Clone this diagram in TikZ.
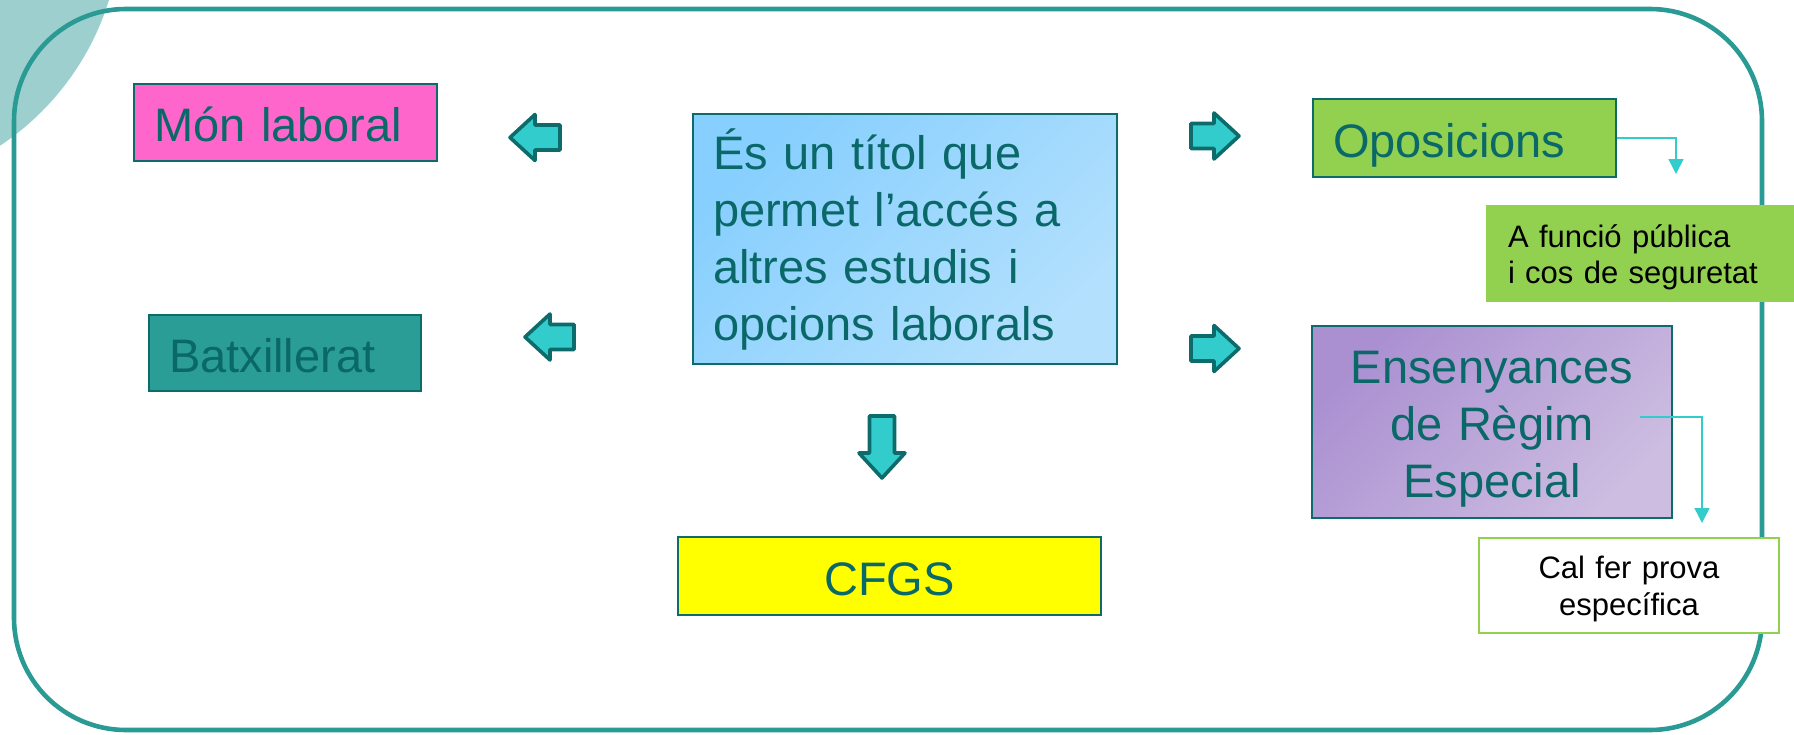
\documentclass[tikz,border=0pt]{standalone}
\usepackage{fontspec}
\setmainfont{Liberation Sans}
\usetikzlibrary{arrows.meta}
\definecolor{frameteal}{HTML}{2A9A94}
\definecolor{circteal}{HTML}{9ECFCF}
\definecolor{txtteal}{HTML}{0A6868}
\definecolor{bordteal}{HTML}{0E6B6B}
\definecolor{arrfill}{HTML}{33CCCC}
\definecolor{pinkfill}{HTML}{FF66CC}
\definecolor{batxfill}{HTML}{2A9D96}
\definecolor{greenfill}{HTML}{92D050}
\definecolor{yellowfill}{HTML}{FFFF00}
\definecolor{bluea}{HTML}{87CFFE}
\definecolor{blueb}{HTML}{B3E0FD}
\definecolor{purplea}{HTML}{AA90D1}
\definecolor{purpleb}{HTML}{CDBDE1}
\tikzset{
  bigbox/.style={draw=bordteal, line width=1pt, inner ysep=0pt, text=txtteal,
    font=\fontsize{23.5}{28.5}\selectfont},
  onebox/.style={bigbox, align=left, inner xsep=10pt, text height=19pt, text depth=0pt},
  smallbox/.style={inner ysep=0pt, text=black, font=\fontsize{15.5}{18.25}\selectfont},
  arrstyle/.style={draw=bordteal, fill=arrfill, line width=1.8pt, line join=round},
  conn/.style={draw=arrfill, line width=0.75pt, -{Triangle[width=7.5pt,length=7.5pt]}},
  blockarr/.pic={\draw[arrstyle] (0,-12.5) -- ({#1-25},-12.5) -- ({#1-25},-23) -- (#1,0) -- ({#1-25},23) -- ({#1-25},12.5) -- (0,12.5) -- cycle;}
}
\begin{document}
\begin{tikzpicture}[x=0.5pt,y=-0.5pt]
\useasboundingbox (0,0) rectangle (1794,734);
\clip (0,0) rectangle (1794,734);
% decorative circle and frame
\fill[circteal] (-150,-80) circle (271);
\draw[frameteal, line width=2.3pt, rounded corners=56pt] (14,9) rectangle (1762,730);
% boxes
\node[onebox, fill=pinkfill, minimum width=151.5pt, minimum height=38.5pt, text width=131.5pt] (mon) at (285.5,122.5) {Món laboral};
\node[onebox, fill=batxfill, minimum width=136pt, minimum height=38pt, text width=116pt] (batx) at (285,353) {Batxillerat};
\node[bigbox, left color=bluea, right color=blueb, shading angle=45, align=left, inner xsep=10pt, minimum width=212pt, minimum height=125pt, text width=192pt] (titol) at (905,239) {És un títol que\\permet l’accés a\\altres estudis i\\opcions laborals};
\node[onebox, fill=greenfill, minimum width=151.5pt, minimum height=39pt, text width=131.5pt] (opos) at (1464.5,138) {Oposicions};
\node[smallbox, fill=greenfill, align=left, inner xsep=11pt, minimum width=157pt, minimum height=48.5pt, text width=135pt] (funcio) at (1643,253.5) {\rule{0pt}{15pt}A funció pública\\i cos de seguretat};
\node[bigbox, left color=purplea, right color=purpleb, shading angle=45, align=center, minimum width=180pt, minimum height=96pt, text width=170pt, inner xsep=5pt] (ens) at (1492,422) {\rule{0pt}{23pt}Ensenyances\\de Règim\\Especial};
\node[smallbox, draw=greenfill, line width=1pt, fill=white, align=center, minimum width=150pt, minimum height=47.5pt, text width=140pt, inner xsep=5pt, font=\fontsize{15.5}{18.5}\selectfont] (prova) at (1629,585.5) {\rule{0pt}{14.6pt}Cal fer prova\\específica};
\node[onebox, fill=yellowfill, align=center, minimum width=211.5pt, minimum height=39pt, text width=191.5pt] (cfgs) at (889.5,576) {CFGS};
% block arrows
\pic (la1) at (560,137.5) [rotate=180] {blockarr=50};
\pic (la2) at (574,337) [rotate=180] {blockarr=49};
\pic (ra1) at (1191,136) {blockarr=48};
\pic (ra2) at (1191,348.5) {blockarr=48};
\pic (da) at (882,416) [rotate=-90] {blockarr=62};
% connectors
\coordinate (oend) at (1676,174);
\draw[conn] (opos.east) -| (oend);
\coordinate (estart) at (1640,417);
\coordinate (eend) at (1702,523);
\draw[conn] (estart) -| (eend);
\end{tikzpicture}
\end{document}
